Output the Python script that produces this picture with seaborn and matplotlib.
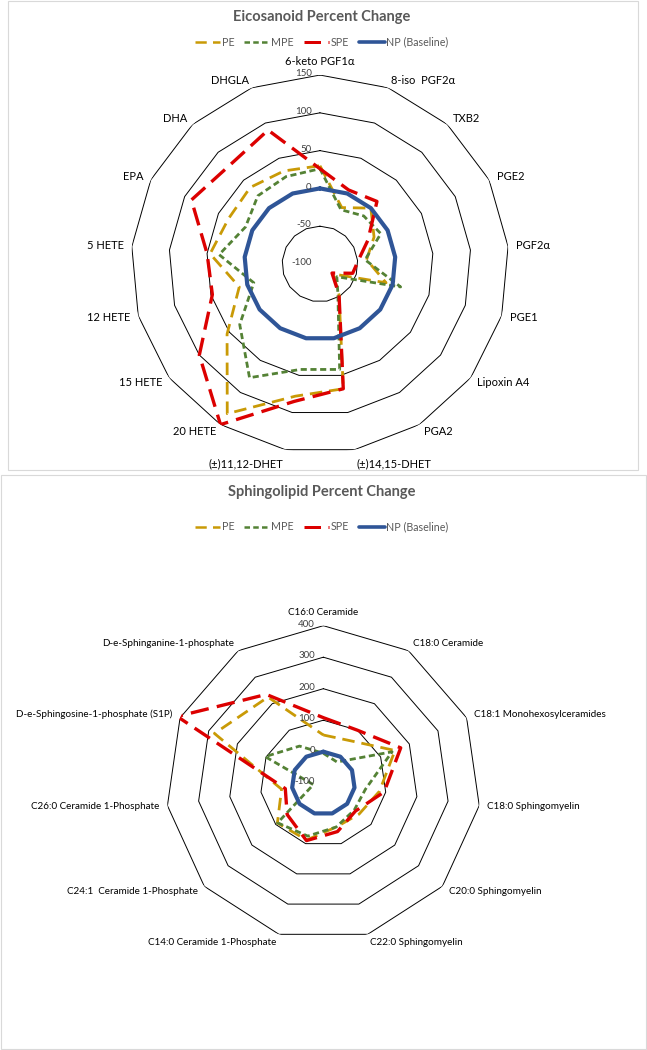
import numpy as np
import pandas as pd
import matplotlib
matplotlib.use("Agg")
import matplotlib.pyplot as plt
import seaborn as sns
from matplotlib.lines import Line2D
from matplotlib.patches import Rectangle

# ---- Eicosanoid data (percent change) ----
eico_labels = ["6-keto PGF1α", "8-iso  PGF2α", "TXB2", "PGE2", "PGF2α", "PGE1",
               "Lipoxin A4", "PGA2", "(±)14,15-DHET", "(±)11,12-DHET", "20 HETE",
               "15 HETE", "12 HETE", "5 HETE", "EPA", "DHA", "DHGLA"]
eico_pe = [30, -20, 0, -20, -38, -9, -78, -52, 68, 78, 133, 54, 11, 46, 35, 37, 32]
eico_mpe = [26, -23, -14, -10, -40, 11, -72, -55, 42, 42, 77, 33, -9, 34, 10, 22, 24]
eico_spe = [26, 5, 12, -29, -49, -55, -80, -52, 68, 85, 150, 100, 48, 50, 90, 77, 90]
eico_np = [0] * 17
eico_ticks = [-100, -50, 0, 50, 100, 150]

# ---- Sphingolipid data (percent change) ----
sph_labels = ["C16:0 Ceramide", "C18:0 Ceramide", "C18:1 Monohexosylceramides",
              "C18:0 Sphingomyelin", "C20:0 Sphingomyelin", "C22:0 Sphingomyelin",
              "C14:0 Ceramide 1-Phosphate", "C24:1  Ceramide 1-Phosphate",
              "C26:0 Ceramide 1-Phosphate", "D-e-Sphingosine-1-phosphate (S1P)",
              "D-e-Sphinganine-1-phosphate"]
sph_pe = [53, 60, 150, 80, 50, 45, 88, 93, 34, 280, 225]
sph_mpe = [-5, -20, 140, 35, 30, 45, 75, 92, -68, 103, 40]
sph_spe = [108, 100, 170, 95, 35, 60, 90, 52, 22, 410, 235]
sph_np = [0] * 11
sph_ticks = [-100, 0, 100, 200, 300, 400]

series_names = ["PE", "MPE", "SPE", "NP (Baseline)"]
colors = {"PE": "#C99A06", "MPE": "#548235", "SPE": "#DC0000", "NP (Baseline)": "#2F5597"}
widths = {"PE": 2.0, "MPE": 2.0, "SPE": 2.4, "NP (Baseline)": 3.0}
dashes = {"PE": (4.5, 2.5), "MPE": (2.2, 1.3), "SPE": (5.5, 2.5), "NP (Baseline)": ""}

sns.set_theme(style="white")
plt.rcParams["font.family"] = ["Lato", "DejaVu Sans"]
text_col = "#595959"


def to_long(labels, values):
    n = len(labels)
    theta = np.linspace(0, 2 * np.pi, n, endpoint=False)
    theta = np.append(theta, 2 * np.pi)
    frames = []
    for name, vals in zip(series_names, values):
        v = list(vals) + [vals[0]]
        frames.append(pd.DataFrame({"theta": theta, "value": v, "series": name}))
    return pd.concat(frames, ignore_index=True)


def radar(ax, labels, values, ticks, label_size):
    n = len(labels)
    theta = np.linspace(0, 2 * np.pi, n, endpoint=False)
    ax.set_theta_zero_location("N")
    ax.set_theta_direction(-1)
    # polygon rings
    ring_t = np.append(theta, 2 * np.pi)
    for t in ticks[1:]:
        ax.plot(ring_t, [t] * len(ring_t), color="black", lw=0.7, zorder=1)
    df = to_long(labels, values)
    sns.lineplot(data=df, x="theta", y="value", hue="series", style="series",
                 size="series", palette=colors, dashes=dashes, sizes=widths,
                 hue_order=series_names, style_order=series_names,
                 size_order=series_names, sort=False, estimator=None,
                 legend=False, ax=ax, zorder=3)
    ax.set_ylim(ticks[0], ticks[-1])
    ax.set_xticks([])
    ax.set_yticks([])
    ax.grid(False)
    ax.spines["polar"].set_visible(False)
    ax.set_xlabel("")
    ax.set_ylabel("")
    ax.patch.set_alpha(0)
    for t in ticks:
        ax.annotate(str(t), xy=(0, t), xytext=(-6, 1), textcoords="offset points",
                    ha="right", va="center", fontsize=7, color="#404040",
                    annotation_clip=False, zorder=4)
    for ang, lab in zip(theta, labels):
        s, c = np.sin(ang), np.cos(ang)
        ha = "center" if abs(s) < 0.15 else ("left" if s > 0 else "right")
        va = "bottom" if c > 0.97 else ("top" if c < -0.97 else "center")
        ax.annotate(lab, xy=(ang, ticks[-1]), xytext=(6 * s, 6 * c),
                    textcoords="offset points", ha=ha, va=va, fontsize=label_size,
                    color="black", annotation_clip=False)


fig = plt.figure(figsize=(6.47, 10.5), dpi=100)
fig.patch.set_facecolor("white")

# chart frames
fig.add_artist(Rectangle((8 / 647, 1 - 470 / 1050), 630 / 647, 469 / 1050,
                         transform=fig.transFigure, fill=False, ec="#D9D9D9", lw=0.8))
fig.add_artist(Rectangle((1 / 647, 1 / 1050), 645 / 647, (1050 - 476) / 1050,
                         transform=fig.transFigure, fill=False, ec="#D9D9D9", lw=0.8))

ax1 = fig.add_axes([0.2025, 0.5686, 0.584, 0.36], projection="polar")
radar(ax1, eico_labels, [eico_pe, eico_mpe, eico_spe, eico_np], eico_ticks, 8)

ax2 = fig.add_axes([0.2563, 0.1041, 0.4869, 0.30], projection="polar")
radar(ax2, sph_labels, [sph_pe, sph_mpe, sph_spe, sph_np], sph_ticks, 7.1)

handles = [Line2D([], [], color=colors[k], lw=widths[k] * 0.9, dashes=dashes[k])
           for k in series_names[:3]]
handles.append(Line2D([], [], color=colors["NP (Baseline)"], lw=2.6))

for ty, ly, title in [(17, 42, "Eicosanoid Percent Change"),
                      (492, 527, "Sphingolipid Percent Change")]:
    fig.text(0.497, 1 - ty / 1050, title, ha="center", va="center",
             fontsize=10.5, fontweight="bold", color=text_col)
    fig.legend(handles, series_names, loc="center", bbox_to_anchor=(0.497, 1 - ly / 1050),
               ncol=4, frameon=False, fontsize=7.7, handlelength=2.4, handletextpad=0.15,
               columnspacing=0.9, labelcolor=text_col)

fig.savefig("out.png", dpi=100, facecolor="white")
